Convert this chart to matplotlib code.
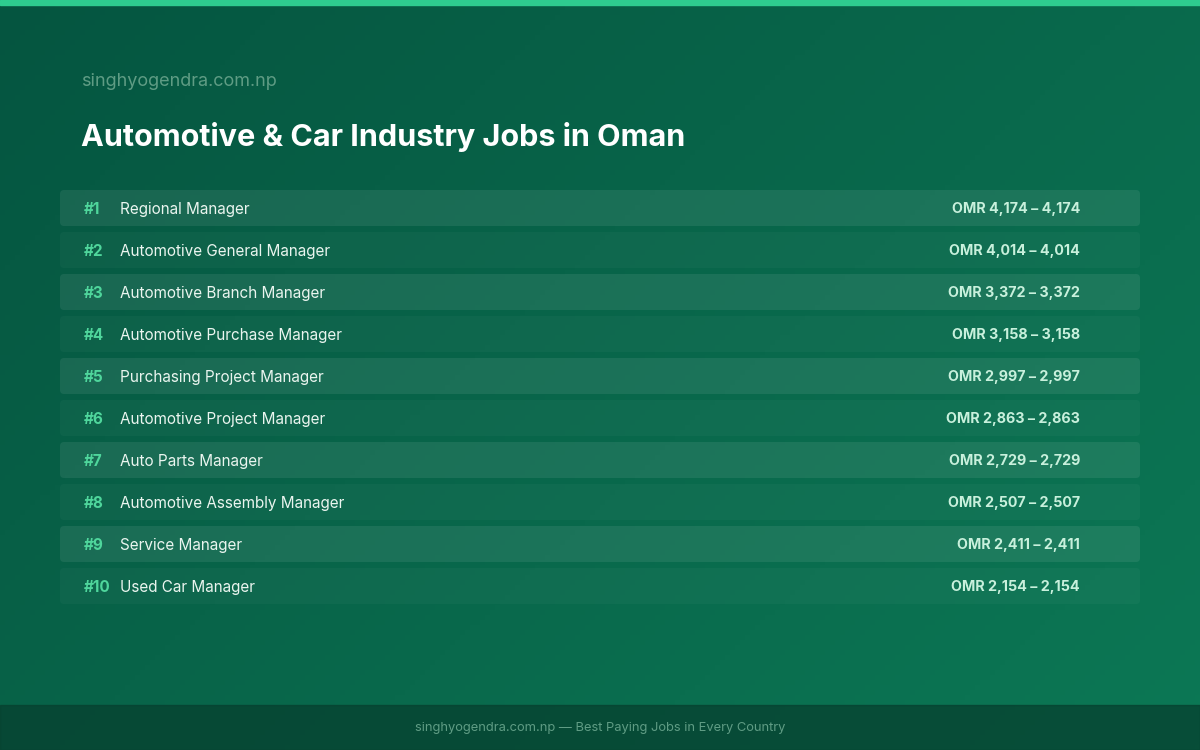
import numpy as np
import matplotlib.pyplot as plt
from matplotlib.patches import FancyBboxPatch, Rectangle

ranks = ["#1", "#2", "#3", "#4", "#5", "#6", "#7", "#8", "#9", "#10"]
jobs = ["Regional Manager", "Automotive General Manager", "Automotive Branch Manager",
        "Automotive Purchase Manager", "Purchasing Project Manager", "Automotive Project Manager",
        "Auto Parts Manager", "Automotive Assembly Manager", "Service Manager", "Used Car Manager"]
low = [4174, 4014, 3372, 3158, 2997, 2863, 2729, 2507, 2411, 2154]
high = [4174, 4014, 3372, 3158, 2997, 2863, 2729, 2507, 2411, 2154]

plt.rcParams['font.family'] = ['Inter', 'DejaVu Sans']

fig = plt.figure(figsize=(12, 7.5), dpi=100)
ax = fig.add_axes([0, 0, 1, 1])
ax.set_xlim(0, 1200)
ax.set_ylim(750, 0)
ax.axis('off')

# diagonal gradient background
xx, yy = np.meshgrid(np.linspace(0, 1, 240), np.linspace(0, 1, 150))
t = (xx * 0.6 + yy * 0.4)
c0 = np.array([0x05, 0x55, 0x40]) / 255
c1 = np.array([0x0c, 0x78, 0x55]) / 255
img = c0[None, None, :] * (1 - t[..., None]) + c1[None, None, :] * t[..., None]
ax.imshow(img, extent=[0, 1200, 750, 0], aspect='auto', zorder=0)

ax.add_patch(Rectangle((0, 0), 1200, 5, color='#2ecc8f', zorder=1))
ax.add_patch(Rectangle((0, 705), 1200, 45, color='#06402f', alpha=0.75, zorder=1))

ax.text(81, 79, "singhyogendra.com.np", color='#5f9c84', fontsize=13, va='center_baseline', zorder=3)
ax.text(81, 134, "Automotive & Car Industry Jobs in Oman", color='white', fontsize=22,
        fontweight='bold', va='center_baseline', zorder=3)

for i in range(len(jobs)):
    y = 208 + i * 42
    a = 0.08 if i % 2 == 0 else 0.03
    ax.add_patch(FancyBboxPatch((60, y - 18), 1080, 36, boxstyle="round,pad=0,rounding_size=4",
                                fc='white', ec='none', alpha=a, zorder=2))
    ax.text(84, y, ranks[i], color='#4fd69c', fontsize=11, fontweight='bold',
            va='center_baseline', zorder=3)
    ax.text(120, y, jobs[i], color='#eaf5ef', fontsize=11, va='center_baseline', zorder=3)
    ax.text(1080, y, f"OMR {low[i]:,} \u2013 {high[i]:,}", color='#c8f0dc', fontsize=10.3,
            fontweight='bold', va='center_baseline', ha='right', zorder=3)

ax.text(600, 726, "singhyogendra.com.np \u2014 Best Paying Jobs in Every Country", color='#5f9c84',
        fontsize=9.3, ha='center', va='center_baseline', zorder=3)

fig.savefig("out.png", dpi=100)
